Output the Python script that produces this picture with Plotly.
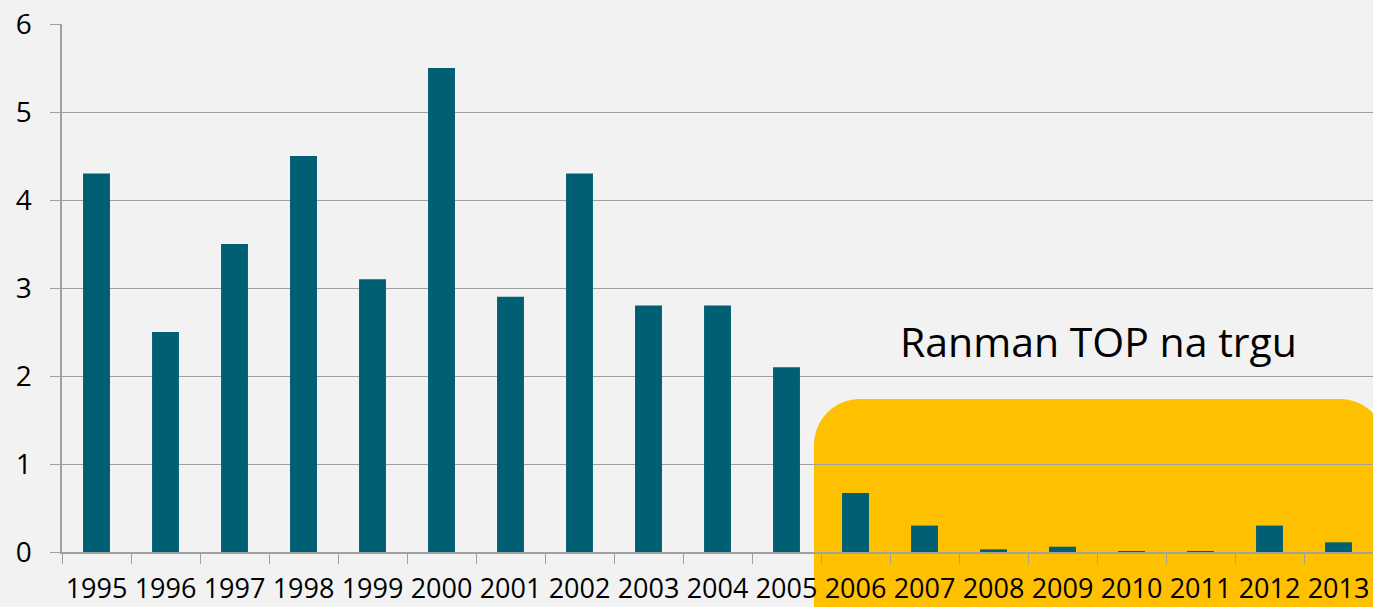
import plotly.graph_objects as go

years = ["1995", "1996", "1997", "1998", "1999", "2000", "2001", "2002", "2003", "2004",
         "2005", "2006", "2007", "2008", "2009", "2010", "2011", "2012", "2013"]
values = [4.3, 2.5, 3.5, 4.5, 3.1, 5.5, 2.9, 4.3, 2.8, 2.8,
          2.1, 0.67, 0.30, 0.03, 0.06, 0.005, 0.01, 0.30, 0.11]
y_ticks = [0, 1, 2, 3, 4, 5, 6]
annotation_text = "Ranman TOP na trgu"

W, H = 1373, 607
ML, MR, MT, MB = 62, 0, 24, 55
PW = W - ML - MR
PH = H - MT - MB


def px(x):
    return (x - ML) / PW


def py(y):
    return (H - MB - y) / PH


# rounded highlight box (pixel geometry converted to paper coords)
left, right, top, bottom, r = 814, 1386, 399, 640, 46
k = 0.5523 * r
path = (
    f"M {px(left)},{py(bottom)} "
    f"L {px(left)},{py(top + r)} "
    f"C {px(left)},{py(top + r - k)} {px(left + r - k)},{py(top)} {px(left + r)},{py(top)} "
    f"L {px(right - r)},{py(top)} "
    f"C {px(right - r + k)},{py(top)} {px(right)},{py(top + r - k)} {px(right)},{py(top + r)} "
    f"L {px(right)},{py(bottom)} Z"
)

fig = go.Figure()
fig.add_trace(go.Bar(x=years, y=values, marker=dict(color="#005f73", line=dict(width=0)),
                     hoverinfo="x+y"))

fig.add_shape(type="path", path=path, xref="paper", yref="paper",
              fillcolor="#ffc000", line=dict(width=0), layer="below")

fig.add_annotation(text=annotation_text, x=px(1098.7), y=py(341), xref="paper", yref="paper",
                   xanchor="center", yanchor="middle", showarrow=False,
                   font=dict(family="Open Sans", size=41, color="#000000"))

fig.update_layout(
    width=W, height=H,
    margin=dict(l=ML, r=MR, t=MT, b=MB, autoexpand=False),
    paper_bgcolor="#f2f2f2",
    plot_bgcolor="rgba(0,0,0,0)",
    bargap=0.61,
    showlegend=False,
    font=dict(family="Open Sans", size=27, color="#000000"),
)
fig.update_xaxes(
    type="category", tickson="boundaries", ticks="outside", ticklen=10, tickwidth=1.3,
    tickcolor="#a0a0a0", showline=True, linecolor="#a0a0a0", linewidth=1.5,
    showgrid=False, automargin=False, ticklabelstandoff=12, tickangle=0,
    tickfont=dict(family="Open Sans", size=27, color="#000000"),
)
fig.update_yaxes(
    range=[0, 6], tickvals=y_ticks, ticks="outside", ticklen=10, tickwidth=1.3,
    tickcolor="#a0a0a0", showline=True, linecolor="#a0a0a0", linewidth=1.5,
    showgrid=True, gridcolor="#a0a0a0", gridwidth=1.3, zeroline=False,
    automargin=False, ticklabelstandoff=13,
    tickfont=dict(family="Open Sans", size=28, color="#000000"),
)

fig.write_html(
    "out.html",
    config={"displayModeBar": False},
    post_script="document.body.style.margin='0';document.body.style.background='#f2f2f2';document.body.style.overflow='hidden';",
)
